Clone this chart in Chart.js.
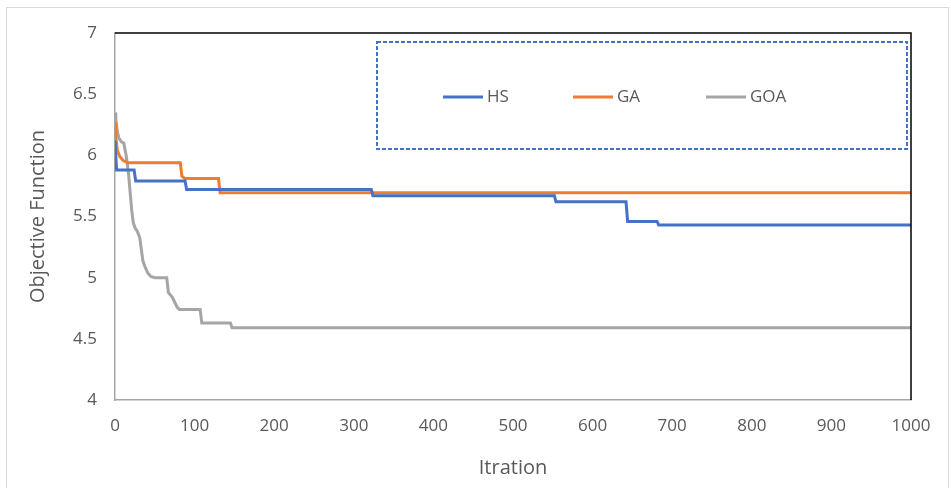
<!DOCTYPE html>
<html>
<head>
<meta charset="utf-8">
<script src="https://cdn.jsdelivr.net/npm/chart.js@4/dist/chart.umd.min.js"></script>
<style>
  html, body { margin: 0; padding: 0; background: #fff; }
  #wrap { width: 951px; height: 488px; }
</style>
</head>
<body>
<div id="wrap"><canvas id="chart" width="951" height="488"></canvas></div>
<script>
// values
const hsX = [0, 2, 24, 26, 88, 90, 322, 324, 552, 554, 642, 644, 681, 683, 1000]
const hsY = [6.12, 5.88, 5.88, 5.79, 5.79, 5.72, 5.72, 5.67, 5.67, 5.62, 5.62, 5.46, 5.46, 5.43, 5.43]

const gaX = [0, 1, 3, 6, 10, 16, 20, 82, 84, 88, 130, 132, 1000]
const gaY = [6.27, 6.15, 6.04, 5.99, 5.96, 5.94, 5.94, 5.94, 5.83, 5.81, 5.81, 5.695, 5.695]

const goaX = [0, 1, 3, 5, 8, 11, 14, 17, 19, 21, 23, 25, 28, 31, 35, 37, 41, 45, 50, 65, 67, 72, 78, 81, 107, 109, 145, 147, 1000]
const goaY = [6.35, 6.3, 6.19, 6.14, 6.11, 6.1, 6.0, 5.85, 5.7, 5.55, 5.45, 5.41, 5.38, 5.33, 5.14, 5.1, 5.04, 5.01, 5.0, 5.0, 4.88, 4.84, 4.76, 4.74, 4.74, 4.63, 4.63, 4.59, 4.59]

const seriesNames = ['HS', 'GA', 'GOA']
const seriesColors = ['#4472C4', '#ED7D31', '#A5A5A5']

const xTitle = 'Itration'
const yTitle = 'Objective Function'

const toPoints = (xs, ys) => xs.map((x, i) => ({ x: x, y: ys[i] }))

const textColor = '#595959'
const font = 'Open Sans'

// frame, top/right black border and the dashed legend box
const decor = {
  id: 'decor',
  beforeDraw(chart) {
    const ctx = chart.ctx
    ctx.save()
    ctx.fillStyle = '#fff'
    ctx.fillRect(0, 0, chart.width, chart.height)
    ctx.strokeStyle = '#d9d9d9'
    ctx.lineWidth = 1
    ctx.strokeRect(6.5, 7.5, 942, 490)
    ctx.restore()
  },
  afterDraw(chart) {
    const ctx = chart.ctx
    const a = chart.chartArea
    ctx.save()
    ctx.strokeStyle = '#000'
    ctx.lineWidth = 1.5
    ctx.beginPath()
    ctx.moveTo(a.left, a.top)
    ctx.lineTo(a.right, a.top)
    ctx.lineTo(a.right, a.bottom)
    ctx.stroke()

    // legend
    ctx.strokeStyle = '#4472C4'
    ctx.lineWidth = 2
    ctx.setLineDash([4, 2])
    ctx.strokeRect(377, 42, 530, 107)
    ctx.setLineDash([])
    const starts = [443, 573, 706]
    const ly = 97
    ctx.font = '17px "' + font + '"'
    ctx.textBaseline = 'middle'
    chart.data.datasets.forEach((ds, i) => {
      ctx.strokeStyle = ds.borderColor
      ctx.lineWidth = 3
      ctx.beginPath()
      ctx.moveTo(starts[i], ly)
      ctx.lineTo(starts[i] + 40, ly)
      ctx.stroke()
      ctx.fillStyle = textColor
      ctx.fillText(ds.label, starts[i] + 44, ly)
    })
    ctx.restore()
  }
}

new Chart(document.getElementById('chart').getContext('2d'), {
  type: 'line',
  data: {
    datasets: [
      { label: seriesNames[0], data: toPoints(hsX, hsY) },
      { label: seriesNames[1], data: toPoints(gaX, gaY) },
      { label: seriesNames[2], data: toPoints(goaX, goaY) },
    ].map((d, i) => Object.assign(d, {
      borderColor: seriesColors[i],
      backgroundColor: seriesColors[i],
      borderWidth: 3,
      pointRadius: 0,
      tension: 0,
      fill: false,
    })),
  },
  options: {
    responsive: false,
    animation: false,
    devicePixelRatio: 1,
    layout: { padding: { left: 0, right: 40, top: 33, bottom: 0 } },
    plugins: {
      legend: { display: false },
      tooltip: { enabled: false },
    },
    scales: {
      x: {
        type: 'linear',
        min: 0,
        max: 1000,
        ticks: { stepSize: 100, color: textColor, font: { family: font, size: 17 }, padding: 16, maxRotation: 0, callback: (v) => String(v) },
        grid: { display: false, drawTicks: false },
        border: { color: '#a6a6a6', width: 1.5 },
        title: { display: true, text: xTitle, color: textColor, font: { family: font, size: 20 }, padding: { top: 0, bottom: 8 } },
        afterFit(scale) { scale.height = 88 },
      },
      y: {
        min: 4,
        max: 7,
        ticks: { stepSize: 0.5, color: textColor, font: { family: font, size: 17 }, padding: 18, callback: (v) => String(v) },
        grid: { display: false, drawTicks: false },
        border: { color: '#a6a6a6', width: 1.5 },
        title: { display: true, text: yTitle, color: textColor, font: { family: font, size: 20 }, padding: { top: 26, bottom: 0 } },
        afterFit(scale) { scale.width = 115 },
      },
    },
  },
  plugins: [decor],
})
</script>
</body>
</html>
